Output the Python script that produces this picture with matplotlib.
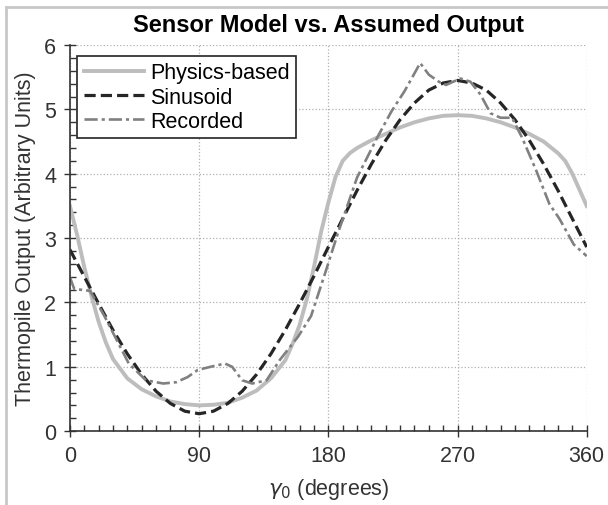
import matplotlib
matplotlib.use('Agg')
import matplotlib.pyplot as plt
from matplotlib.ticker import MultipleLocator
from matplotlib.lines import Line2D

plt.rcParams['font.family'] = ['Liberation Sans', 'DejaVu Sans']

# physics-based model
phys_deg = [0, 5, 10, 15, 20, 25, 30, 40, 50, 60, 70, 80, 90, 100, 110, 120, 130, 140,
            150, 155, 160, 165, 170, 175, 180, 185, 190, 195, 200, 210, 220, 230, 240,
            250, 260, 270, 280, 290, 300, 310, 320, 330, 340, 345, 350, 355, 360]
phys_val = [3.5, 3.05, 2.55, 2.1, 1.7, 1.38, 1.12, 0.82, 0.65, 0.54, 0.46, 0.42, 0.4, 0.41,
            0.44, 0.52, 0.63, 0.82, 1.1, 1.35, 1.65, 2.05, 2.55, 3.1, 3.55, 3.95, 4.2, 4.32,
            4.4, 4.52, 4.62, 4.72, 4.8, 4.86, 4.9, 4.91, 4.9, 4.86, 4.8, 4.72, 4.62, 4.5,
            4.32, 4.2, 4.0, 3.75, 3.5]

# sinusoid
sin_deg = list(range(0, 361, 10))
sin_val = [2.82, 2.4, 1.98, 1.57, 1.2, 0.88, 0.62, 0.43, 0.31, 0.27, 0.31, 0.43, 0.62,
           0.88, 1.2, 1.57, 1.98, 2.41, 2.86, 3.3, 3.74, 4.15, 4.52, 4.84, 5.1, 5.3, 5.41,
           5.45, 5.41, 5.3, 5.1, 4.84, 4.52, 4.15, 3.74, 3.3, 2.86]

# recorded
rec_deg = [0, 3, 14, 24, 41, 53, 65, 74, 82, 89, 98, 108, 113, 120, 127, 137, 146, 159,
           168, 178, 187, 190, 200, 214, 224, 233, 244, 250, 257, 262, 272, 279, 286,
           293, 300, 308, 315, 325, 334, 341, 351, 360]
rec_val = [2.39, 2.21, 2.18, 1.79, 1.05, 0.79, 0.74, 0.76, 0.84, 0.95, 1.0, 1.05, 1.0,
           0.79, 0.74, 0.79, 1.1, 1.47, 1.79, 2.47, 3.1, 3.29, 3.94, 4.56, 4.97, 5.28,
           5.72, 5.54, 5.43, 5.38, 5.48, 5.43, 5.23, 4.94, 4.87, 4.87, 4.56, 4.04, 3.53,
           3.3, 2.9, 2.72]

fig = plt.figure(figsize=(6.08, 5.06), dpi=100)
ax = fig.add_axes([0.115, 0.146, 0.85, 0.763])

ax.plot(phys_deg, phys_val, color='#bdbdbd', lw=2.8, label='Physics-based')
ax.plot(sin_deg, sin_val, color='#262626', lw=2.3, ls=(0, (3.5, 1.6)), label='Sinusoid')
ax.plot(rec_deg, rec_val, color='#808080', lw=1.9, ls=(0, (5, 1.5, 1.2, 1.5)), label='Recorded')

ax.set_xlim(0, 360)
ax.set_ylim(0, 6)
ax.set_xticks([0, 90, 180, 270, 360])
ax.set_yticks(range(0, 7))
ax.xaxis.set_minor_locator(MultipleLocator(10))
ax.yaxis.set_minor_locator(MultipleLocator(0.2))
ax.tick_params(which='major', direction='inout', length=8, width=1, labelsize=15.5,
               colors='#333333', pad=6)
ax.tick_params(which='minor', direction='in', length=4, width=1, colors='#333333')
ax.grid(True, which='major', ls=':', color='#b0b0b0', lw=0.9)
for s in ['top', 'right']:
    ax.spines[s].set_visible(False)
for s in ['left', 'bottom']:
    ax.spines[s].set_color('#333333')
    ax.spines[s].set_linewidth(1.2)

ax.set_title('Sensor Model vs. Assumed Output', fontsize=17, fontweight='bold', pad=10)
ax.set_xlabel(r'$\gamma_0$ (degrees)', fontsize=15.5, color='#333333', labelpad=7)
ax.set_ylabel('Thermopile Output (Arbitrary Units)', fontsize=15.5, color='#333333', labelpad=6)

leg = ax.legend(loc='upper left', bbox_to_anchor=(0.014, 0.972), borderaxespad=0,
                fontsize=15.5, frameon=True, fancybox=False, framealpha=1,
                edgecolor='#222222', handlelength=2.8, borderpad=0.3, labelspacing=0.15,
                handletextpad=0.3)
leg.get_frame().set_linewidth(1.2)

# grey frame remnants at figure edge
fig.add_artist(Line2D([0.01, 0.01], [0, 0.985], color='#c8c8c8', lw=2, transform=fig.transFigure))
fig.add_artist(Line2D([0.01, 1.0], [0.985, 0.985], color='#c8c8c8', lw=2, transform=fig.transFigure))

fig.savefig('out.png', dpi=100)
